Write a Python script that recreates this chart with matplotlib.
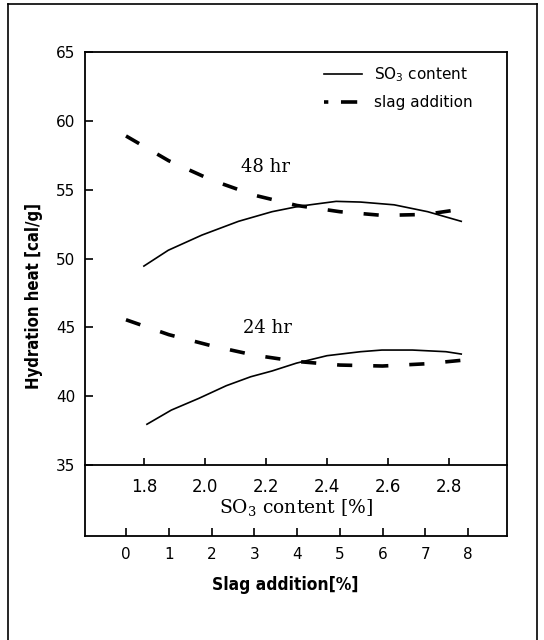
import matplotlib
matplotlib.use("Agg")
import matplotlib.pyplot as plt
from matplotlib.lines import Line2D

plt.rcParams['mathtext.default'] = 'regular'
plt.rcParams['font.family'] = ['DejaVu Sans']

# ---- data ----
so3_48 = [1.80, 1.88, 1.99, 2.11, 2.22, 2.31, 2.43, 2.51, 2.62, 2.73, 2.84]
heat_so3_48 = [49.45, 50.6, 51.7, 52.7, 53.4, 53.8, 54.15, 54.1, 53.9, 53.4, 52.7]
so3_24 = [1.81, 1.89, 1.98, 2.07, 2.15, 2.22, 2.30, 2.40, 2.51, 2.58, 2.68, 2.79, 2.84]
heat_so3_24 = [37.96, 38.99, 39.84, 40.76, 41.41, 41.83, 42.4, 42.94, 43.23, 43.35, 43.35, 43.23, 43.06]
slag = [0, 1, 2, 3, 4, 5, 6, 7, 8]
heat_slag_48 = [58.9, 57.1, 55.7, 54.6, 53.85, 53.4, 53.13, 53.2, 53.65]
heat_slag_24 = [45.55, 44.47, 43.66, 42.98, 42.52, 42.26, 42.19, 42.35, 42.65]

yticks = [35, 40, 45, 50, 55, 60, 65]
so3_ticks = [1.8, 2.0, 2.2, 2.4, 2.6, 2.8]
so3_ticklabels = ["1.8", "2.0", "2.2", "2.4", "2.6", "2.8"]
slag_ticks = [0, 1, 2, 3, 4, 5, 6, 7, 8]

so3_lim = (1.607, 2.990)
slag_lim = (-0.959, 8.912)

W, H = 544, 640
fig = plt.figure(figsize=(W / 100, H / 100), dpi=100)

def fx(px):
    return px / W

def fy(py):
    return 1 - py / H

lw_sp = 1.3

# lower box for slag axis (drawn first, transparent)
ax2 = fig.add_axes([fx(85), fy(536), fx(507) - fx(85), fy(465) - fy(536)])
ax2.patch.set_visible(False)
ax2.set_xlim(*slag_lim)
ax2.set_ylim(0, 1)
ax2.spines['top'].set_visible(False)
for s in ax2.spines.values():
    s.set_linewidth(lw_sp)
ax2.set_yticks([])
ax2.set_xticks(slag_ticks)
ax2.tick_params(axis='x', direction='in', length=6, width=1.2, pad=8, labelsize=11)
ax2.set_xlabel('Slag addition[%]', family='DejaVu Sans', fontstretch='condensed',
               fontweight='bold', fontsize=12.5, labelpad=6)
ax2.xaxis.set_label_coords(0.474, -0.56)

# main axes
ax = fig.add_axes([fx(85), fy(465), fx(507) - fx(85), fy(52) - fy(465)])
ax.patch.set_visible(False)
ax.set_xlim(*so3_lim)
ax.set_ylim(35, 65)
for s in ax.spines.values():
    s.set_linewidth(lw_sp)
ax.set_yticks(yticks)
ax.set_xticks(so3_ticks)
ax.set_xticklabels(so3_ticklabels)
ax.tick_params(axis='y', direction='in', length=6, width=1.2, pad=7, labelsize=11)
ax.tick_params(axis='x', direction='in', length=5, width=1.2, pad=9, labelsize=12)

ax.plot(so3_48, heat_so3_48, color='black', lw=1.2)
ax.plot(so3_24, heat_so3_24, color='black', lw=1.2)

# twin for slag curves
axt = ax.twiny()
axt.set_xlim(*slag_lim)
axt.xaxis.set_visible(False)
for s in axt.spines.values():
    s.set_visible(False)
axt.plot(slag, heat_slag_48, color='black', lw=2.6, dashes=(4.2, 5.8))
axt.plot(slag, heat_slag_24, color='black', lw=2.6, dashes=(4.2, 5.8))

solid = Line2D([], [], color='black', lw=1.2)
dashed = Line2D([], [], color='black', lw=2.6, dashes=(1.2, 3.5, 4.5, 2))
ax.legend([solid, dashed], ['SO$_3$ content', 'slag addition'], loc='upper right',
          bbox_to_anchor=(0.952, 1.0), frameon=False, fontsize=11,
          handlelength=2.5, handletextpad=0.8, labelspacing=0.7)

ax.text(2.197, 56.64, '48 hr', family='DejaVu Serif', fontsize=13, ha='center', va='center')
ax.text(2.205, 44.95, '24 hr', family='DejaVu Serif', fontsize=13, ha='center', va='center')

ax.set_xlabel('SO$_3$ content [%]', family='DejaVu Serif', fontsize=13.5, labelpad=1)

fig.text(fx(34), fy(296), 'Hydration heat [cal/g]', rotation=90, ha='center', va='center',
         family='DejaVu Sans', fontstretch='condensed', fontweight='bold', fontsize=12)

# outer frame
for (x0, y0, x1, y1) in [(8, 4, 8, 640), (8, 4, 537, 4), (537, 4, 537, 640)]:
    fig.add_artist(Line2D([fx(x0), fx(x1)], [fy(y0), fy(y1)], transform=fig.transFigure,
                          color='black', lw=1.2))

fig.savefig('out.png', dpi=100)
